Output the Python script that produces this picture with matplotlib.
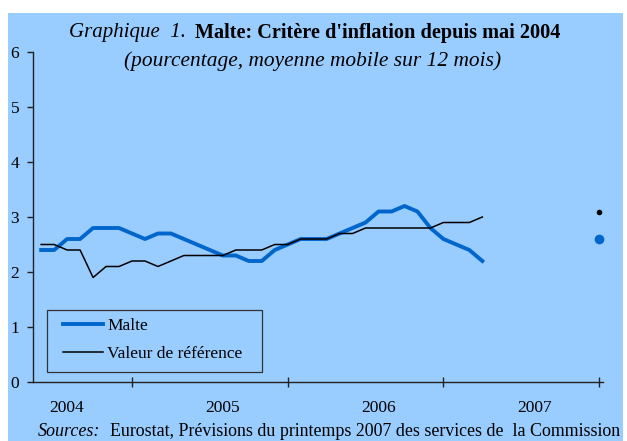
import matplotlib.pyplot as plt
import matplotlib.patches as patches
import numpy as np

plt.rcParams['font.family'] = ['Liberation Serif', 'DejaVu Serif']

# données : moyenne mobile sur 12 mois, de mai 2004 à mars 2007
mois = np.arange(5, 40)  # fin de mois, janvier 2004 = 0
malte = [2.4, 2.4, 2.6, 2.6, 2.8, 2.8, 2.8, 2.7, 2.6, 2.7, 2.7, 2.6, 2.5, 2.4,
         2.3, 2.3, 2.2, 2.2, 2.4, 2.5, 2.6, 2.6, 2.6, 2.7, 2.8, 2.9, 3.1, 3.1,
         3.2, 3.1, 2.8, 2.6, 2.5, 2.4, 2.2]
reference = [2.5, 2.5, 2.4, 2.4, 1.9, 2.1, 2.1, 2.2, 2.2, 2.1, 2.2, 2.3, 2.3, 2.3,
             2.3, 2.4, 2.4, 2.4, 2.5, 2.5, 2.6, 2.6, 2.6, 2.7, 2.7, 2.8, 2.8, 2.8,
             2.8, 2.8, 2.8, 2.9, 2.9, 2.9, 3.0]
# prévisions 2007
mois_prev = 48
malte_prev = 2.6
reference_prev = 3.1

annees = ['2004', '2005', '2006', '2007']
pos_annees = [7, 19, 31, 43]
limites_annees = [12, 24, 36, 48]

bleu_fond = '#99CCFF'
bleu = '#0066CC'

W, H = 627, 441
fig = plt.figure(figsize=(W / 100, H / 100), dpi=100)
fig.patch.set_facecolor('white')

# fond bleu
fond = fig.add_axes([0, 0, 1, 1], zorder=0)
fond.axis('off')
fond.add_patch(patches.Rectangle((8 / W, 0), 615 / W, 428 / H,
                                 facecolor=bleu_fond, edgecolor='none'))
fond.set_xlim(0, 1)
fond.set_ylim(0, 1)

ax = fig.add_axes([33 / W, 1 - 382 / H, 570 / W, 330 / H], zorder=1)
ax.set_facecolor('none')

ax.plot(mois, malte, color=bleu, lw=2.8, label='Malte', solid_joinstyle='round')
ax.plot(mois, reference, color='black', lw=1.1, label='Valeur de référence')
ax.plot(mois_prev, malte_prev, 'o', color=bleu, ms=7, mec='none', clip_on=False)
ax.plot(mois_prev, reference_prev, 'o', color='black', ms=4, mec='none', clip_on=False)

ax.set_xlim(4.37, 48.3)
ax.set_ylim(0, 6)
ax.spines['top'].set_visible(False)
ax.spines['right'].set_visible(False)
for s in ('left', 'bottom'):
    ax.spines[s].set_color('#222222')
    ax.spines[s].set_linewidth(1.0)

ax.set_yticks(range(0, 7))
ax.tick_params(axis='y', direction='out', length=4, width=1, color='#222222',
               labelsize=12.5, pad=6)
ax.set_xticks(limites_annees)
ax.set_xticklabels([])
ax.tick_params(axis='x', which='major', direction='inout', length=7, width=1,
               color='#222222')
ax.set_xticks(pos_annees, minor=True)
ax.set_xticklabels(annees, minor=True)
ax.tick_params(axis='x', which='minor', length=0, labelsize=12.5, pad=13)

# légende : cadre dessiné à part
ax.add_patch(patches.Rectangle((14 / 570, 10 / 330), 215 / 570, 62 / 330,
                               transform=ax.transAxes, facecolor='none',
                               edgecolor='#333333', lw=0.9, zorder=3))
ax.legend(loc='upper left', bbox_to_anchor=(30 / 570, 64 / 330), frameon=False,
          fontsize=12.5, handlelength=2.3, handletextpad=0.25, labelspacing=0.65,
          borderpad=0, borderaxespad=0)

# titres
fig.text(186 / W, 1 - 33 / H, 'Graphique  1.', style='italic', fontsize=15,
         ha='right', va='center')
fig.text(195 / W, 1 - 33 / H, "Malte: Critère d'inflation depuis mai 2004",
         weight='bold', fontsize=14.6, ha='left', va='center')
fig.text(313 / W, 1 - 61 / H, '(pourcentage, moyenne mobile sur 12 mois)',
         style='italic', fontsize=15.4, ha='center', va='center')

# source
fig.text(38 / W, 1 - 431 / H, 'Sources:', style='italic', fontsize=13,
         ha='left', va='center')
fig.text(110 / W, 1 - 431 / H,
         'Eurostat, Prévisions du printemps 2007 des services de  la Commission',
         fontsize=12.9, ha='left', va='center')

fig.savefig('out.png', dpi=100)
